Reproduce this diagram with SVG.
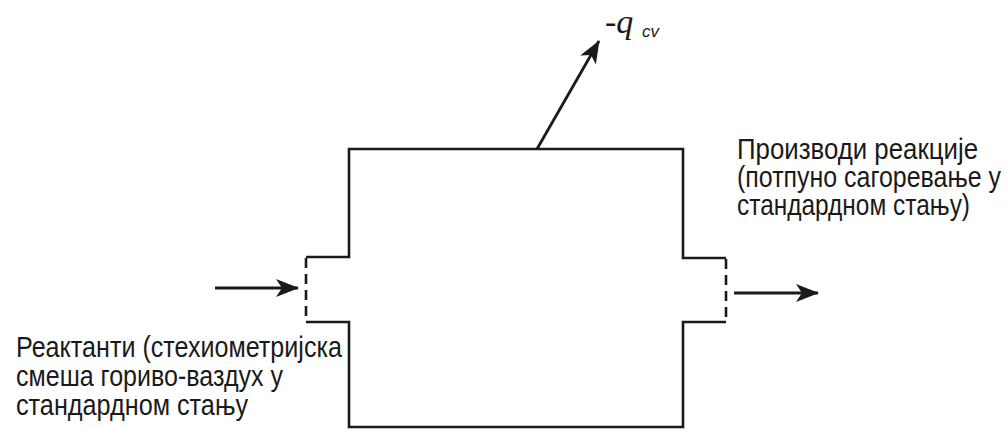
<svg xmlns="http://www.w3.org/2000/svg" width="1006" height="429" viewBox="0 0 1006 429">
<style>
.ln{fill:none;stroke:#1a1a1a;stroke-width:2.6}
.ds{fill:none;stroke:#1a1a1a;stroke-width:2.6;stroke-dasharray:10 6}
.ar{fill:none;stroke:#1a1a1a;stroke-width:2.8}
.lb{font-family:"Liberation Sans",Arial,sans-serif;font-size:30px;fill:#1a1a1a}
.rb{font-family:"Liberation Sans",Arial,sans-serif;font-size:29px;fill:#1a1a1a}
</style>
<defs>
<marker id="ah" markerUnits="userSpaceOnUse" markerWidth="26" markerHeight="22" refX="22" refY="10" orient="auto">
<path d="M0,1 L23,10 L0,19 L6,10 Z" fill="#1a1a1a"/>
</marker>
</defs>
<rect width="1006" height="429" fill="#fff"/>
<g id="control-volume">
<path class="ln" d="M306,257 H349 V149 H683 V258 H726"/>
<path class="ln" d="M306,322 H349 V427 H683 V322 H726"/>
<path class="ds" d="M306,258 V322"/>
<path class="ds" d="M726,259 V322"/>
</g>
<g id="connectors">
<line class="ar" x1="215" y1="288" x2="298" y2="288" marker-end="url(#ah)"/>
<line class="ar" x1="734" y1="293" x2="818" y2="293" marker-end="url(#ah)"/>
<line class="ar" x1="537" y1="149" x2="599" y2="41" marker-end="url(#ah)"/>
</g>
<g id="heat-label">
<text x="605" y="33" font-family="'Liberation Serif','Times New Roman',serif" font-style="italic" font-size="34" fill="#1a1a1a">-q</text>
<text x="642" y="37" font-family="'Liberation Sans',Arial,sans-serif" font-style="italic" font-size="17" fill="#1a1a1a">cv</text>
</g>
<g id="reactants-label">
<text class="lb" x="16" y="357" textLength="326" lengthAdjust="spacingAndGlyphs">Реактанти (стехиометријска</text>
<text class="lb" x="16" y="386" textLength="267" lengthAdjust="spacingAndGlyphs">смеша гориво-ваздух у</text>
<text class="lb" x="16" y="415" textLength="232" lengthAdjust="spacingAndGlyphs">стандардном стању</text>
</g>
<g id="products-label">
<text class="rb" x="737" y="159" textLength="241" lengthAdjust="spacingAndGlyphs">Производи реакције</text>
<text class="rb" x="737" y="187" textLength="264" lengthAdjust="spacingAndGlyphs">(потпуно сагоревање у</text>
<text class="rb" x="737" y="215" textLength="233" lengthAdjust="spacingAndGlyphs">стандардном стању)</text>
</g>
</svg>
